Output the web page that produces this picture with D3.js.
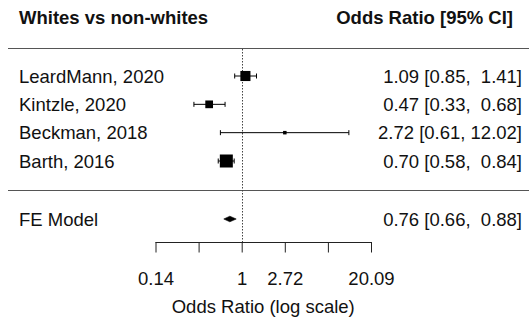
<!DOCTYPE html>
<html>
<head>
<meta charset="utf-8">
<script src="https://cdn.jsdelivr.net/npm/d3@7"></script>
<style>
  body { margin: 0; background: #fff; }
  text { font-family: "Liberation Sans", Arial, sans-serif; fill: #111; }
</style>
</head>
<body>
<div class="chart"></div>
<script>
var svgWidth = 529;
var svgHeight = 322;

// study data
var studies = ["LeardMann, 2020", "Kintzle, 2020", "Beckman, 2018", "Barth, 2016"];
var estimates = [1.09, 0.47, 2.72, 0.70];
var lower = [0.85, 0.33, 0.61, 0.58];
var upper = [1.41, 0.68, 12.02, 0.84];
var ciLabels = ["1.09 [0.85,  1.41]", "0.47 [0.33,  0.68]", "2.72 [0.61, 12.02]", "0.70 [0.58,  0.84]"];

// pooled model
var modelName = "FE Model";
var modelEst = 0.76;
var modelLower = 0.66;
var modelUpper = 0.88;
var modelLabel = "0.76 [0.66,  0.88]";

// axis (log scale ticks)
var tickLogs = [-2, -1, 0, 1, 2, 3];
var tickLabels = ["0.14", "", "1", "2.72", "", "20.09"];

var svg = d3.select(".chart")
  .append("svg")
  .attr("width", svgWidth)
  .attr("height", svgHeight);

var x = d3.scaleLinear()
  .domain([-2, 3])
  .range([155.5, 371]);

var rowY = d3.scalePoint()
  .domain(studies)
  .range([76, 161]);

var modelY = 219;
var axisY = 242;

// square size from precision (1/se)
var prec = studies.map((d, i) => 3.92 / (Math.log(upper[i]) - Math.log(lower[i])));
var boxSize = d3.scaleLinear()
  .domain(d3.extent(prec))
  .range([3.5, 13]);

// headers
svg.append("text")
  .attr("x", 19)
  .attr("y", 24)
  .attr("font-size", 18.5)
  .attr("font-weight", "bold")
  .text("Whites vs non-whites");

svg.append("text")
  .attr("x", 513)
  .attr("y", 24)
  .attr("font-size", 18.5)
  .attr("font-weight", "bold")
  .attr("text-anchor", "end")
  .text("Odds Ratio [95% CI]");

// separator lines
svg.append("line")
  .attr("x1", 8).attr("x2", svgWidth)
  .attr("y1", 48.5).attr("y2", 48.5)
  .attr("stroke", "#555");

svg.append("line")
  .attr("x1", 8).attr("x2", svgWidth)
  .attr("y1", 190.5).attr("y2", 190.5)
  .attr("stroke", "#555");

// reference line at OR = 1
svg.append("line")
  .attr("x1", Math.round(x(0)) + 0.5).attr("x2", Math.round(x(0)) + 0.5)
  .attr("y1", 49).attr("y2", axisY)
  .attr("stroke", "#444")
  .attr("stroke-dasharray", "1.5,1.5");

// study rows
var rows = svg.selectAll(".row")
  .data(studies)
  .enter()
  .append("g")
  .classed("row", true);

rows.append("text")
  .attr("x", 19)
  .attr("y", d => rowY(d) + 6.5)
  .attr("font-size", 18.5)
  .text(d => d);

rows.append("text")
  .attr("x", 522)
  .attr("y", d => rowY(d) + 6.5)
  .attr("font-size", 18.5)
  .attr("text-anchor", "end")
  .attr("xml:space", "preserve")
  .style("white-space", "pre")
  .text((d, i) => ciLabels[i]);

rows.append("line")
  .attr("x1", (d, i) => x(Math.log(lower[i])))
  .attr("x2", (d, i) => x(Math.log(upper[i])))
  .attr("y1", d => rowY(d))
  .attr("y2", d => rowY(d))
  .attr("stroke", "#000");

rows.append("line")
  .attr("x1", (d, i) => x(Math.log(lower[i])))
  .attr("x2", (d, i) => x(Math.log(lower[i])))
  .attr("y1", d => rowY(d) - 2.5)
  .attr("y2", d => rowY(d) + 2.5)
  .attr("stroke", "#000");

rows.append("line")
  .attr("x1", (d, i) => x(Math.log(upper[i])))
  .attr("x2", (d, i) => x(Math.log(upper[i])))
  .attr("y1", d => rowY(d) - 2.5)
  .attr("y2", d => rowY(d) + 2.5)
  .attr("stroke", "#000");

rows.append("rect")
  .attr("x", (d, i) => x(Math.log(estimates[i])) - boxSize(prec[i]) / 2)
  .attr("y", (d, i) => rowY(d) - boxSize(prec[i]) / 2)
  .attr("width", (d, i) => boxSize(prec[i]))
  .attr("height", (d, i) => boxSize(prec[i]))
  .attr("fill", "#000");

// model row
svg.append("text")
  .attr("x", 19)
  .attr("y", modelY + 6.5)
  .attr("font-size", 18.5)
  .text(modelName);

svg.append("text")
  .attr("x", 522)
  .attr("y", modelY + 6.5)
  .attr("font-size", 18.5)
  .attr("text-anchor", "end")
  .style("white-space", "pre")
  .text(modelLabel);

var dl = x(Math.log(modelLower)), de = x(Math.log(modelEst)), du = x(Math.log(modelUpper));
svg.append("polygon")
  .attr("points", `${dl},${modelY} ${de},${modelY - 2.8} ${du},${modelY} ${de},${modelY + 2.8}`)
  .attr("fill", "#000")
  .attr("stroke", "#000")
  .attr("stroke-width", 0.6);

// x axis
var bottomAxis = d3.axisBottom(x)
  .tickValues(tickLogs)
  .tickFormat((d, i) => tickLabels[i])
  .tickSize(10.5)
  .tickPadding(19);

var xAxis = svg.append("g")
  .attr("transform", `translate(0, ${axisY})`)
  .call(bottomAxis);

xAxis.select(".domain")
  .attr("d", `M${x(-2)},0.5H${x(3)}`)
  .attr("stroke", "#222");
xAxis.selectAll(".tick line").attr("stroke", "#222");
xAxis.selectAll(".tick text")
  .attr("font-size", 18.5)
  .attr("font-family", "Liberation Sans, Arial, sans-serif")
  .attr("fill", "#111");

svg.append("text")
  .attr("x", (x(-2) + x(3)) / 2)
  .attr("y", 313)
  .attr("font-size", 18.5)
  .attr("text-anchor", "middle")
  .text("Odds Ratio (log scale)");
</script>
</body>
</html>
